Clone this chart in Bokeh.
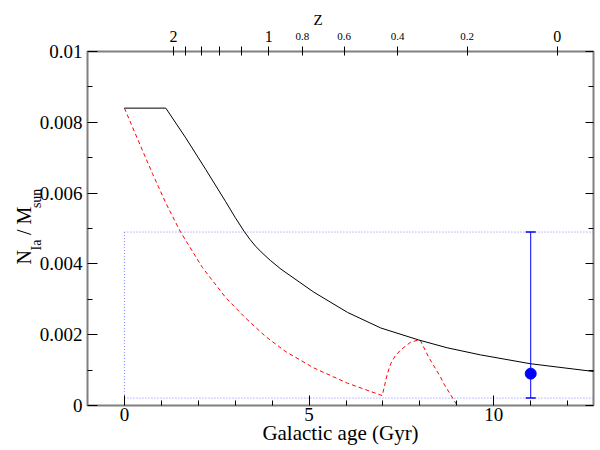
from bokeh.plotting import figure
from bokeh.models import FixedTicker, LinearAxis, Title, Range1d
from bokeh.embed import file_html
from bokeh.resources import INLINE

# ---------------- data ----------------
# upper (black, solid) curve: N_Ia / M_sun vs galactic age (Gyr)
black_age = [0.0, 1.12, 1.66, 2.20, 2.74, 3.00, 3.24, 3.40, 3.55, 3.70, 3.95, 4.24, 5.13,
             6.04, 6.94, 7.97, 8.74, 9.64, 10.99, 12.71]
black_n = [0.0084, 0.0084, 0.00756, 0.00667, 0.00576, 0.00531, 0.00492, 0.00469, 0.00450,
           0.00434, 0.00410, 0.00385, 0.00320, 0.00263, 0.00219, 0.00185, 0.00163,
           0.00143, 0.00118, 0.00096]

# lower (red, dashed) curve
red_age = [0.0, 0.40, 0.76, 1.12, 1.52, 2.11, 2.74, 3.28, 3.82, 4.37, 5.13, 6.04, 6.98,
           7.12, 7.21, 7.33, 7.48, 7.75, 8.00, 8.24, 8.56, 8.65, 9.01]
red_n = [0.0084, 0.00742, 0.00655, 0.00572, 0.00490, 0.00390, 0.00305, 0.00247, 0.00195,
         0.00152, 0.00106, 0.00063, 0.00028, 0.00090, 0.00118, 0.00140, 0.00157, 0.00179,
         0.00186, 0.00136, 0.00080, 0.00061, 0.0]

# observed value with error bar
obs_age = [11.0]
obs_n = [0.0009]
obs_low = [0.00021]
obs_high = [0.0049]
box_start = [0.0]

# axes
x_lim = [-1.0, 12.7]
y_lim = [0.0, 0.01]
x_major = [0, 5, 10]
x_major_labels = ["0", "5", "10"]
x_minor = [1, 2, 3, 4, 6, 7, 8, 9, 11, 12]
y_major = [0.0, 0.002, 0.004, 0.006, 0.008, 0.01]
y_major_labels = ["0", "0.002", "0.004", "0.006", "0.008", "0.01"]
y_minor = [0.001, 0.003, 0.005, 0.007, 0.009]

# redshift (top) axis: tick positions in galactic age
z_major_age = [1.33, 3.91, 4.82, 5.95, 7.40, 9.28, 11.72]
z_major_labels = ["2", "1", "0.8", "0.6", "0.4", "0.2", "0"]
z_big = [True, True, False, False, False, False, True]
z_minor_age = [1.66, 2.08, 2.57, 3.18]

x_title = "Galactic age (Gyr)"
z_title = "Z"

FONT = "Liberation Serif"
NB = "\u00a0"

p = figure(width=600, height=450, x_range=Range1d(*x_lim), y_range=Range1d(*y_lim),
           output_backend="svg", toolbar_location=None, title=None,
           min_border_left=87, min_border_right=7,
           min_border_top=51, min_border_bottom=45,
           background_fill_color="white", border_fill_color="white")
p.grid.visible = False
p.outline_line_color = "#808080"
p.outline_line_width = 2

# bottom axis
xa = p.xaxis[0]
xa.ticker = FixedTicker(ticks=x_major, minor_ticks=x_minor)
xa.major_label_overrides = dict(zip(x_major, x_major_labels))
xa.axis_line_color = None
xa.major_tick_in = 10
xa.major_tick_out = 0
xa.minor_tick_in = 5
xa.minor_tick_out = 0
xa.major_tick_line_color = "black"
xa.minor_tick_line_color = "black"
xa.major_label_text_font = FONT
xa.major_label_text_font_size = "19px"
xa.major_label_text_color = "black"
xa.major_label_standoff = 2
xa.axis_label = x_title
xa.axis_label_text_font = FONT
xa.axis_label_text_font_size = "21px"
xa.axis_label_text_font_style = "normal"
xa.axis_label_text_color = "black"
xa.axis_label_standoff = -3

# left axis
ya = p.yaxis[0]
ya.ticker = FixedTicker(ticks=y_major, minor_ticks=y_minor)
ya.major_label_overrides = dict(zip(y_major, y_major_labels))
ya.axis_line_color = None
ya.major_tick_in = 10
ya.major_tick_out = 0
ya.minor_tick_in = 5
ya.minor_tick_out = 0
ya.major_tick_line_color = "black"
ya.minor_tick_line_color = "black"
ya.major_label_text_font = FONT
ya.major_label_text_font_size = "19px"
ya.major_label_text_color = "black"
ya.major_label_standoff = 5

# right axis (ticks only)
ra = LinearAxis(ticker=FixedTicker(ticks=y_major, minor_ticks=y_minor),
                major_label_overrides={v: "" for v in y_major},
                axis_line_color=None, major_tick_in=8, major_tick_out=0,
                minor_tick_in=5, minor_tick_out=0, major_label_standoff=0,
                major_label_text_font_size="1px",
                major_tick_line_color="black", minor_tick_line_color="black")
p.add_layout(ra, "right")

# top axis A (closest to frame): ticks + small redshift labels
za = LinearAxis(ticker=FixedTicker(ticks=z_major_age, minor_ticks=z_minor_age),
                major_label_overrides={a: ("" if b else l) for a, l, b in zip(z_major_age, z_major_labels, z_big)},
                axis_line_color=None, major_tick_in=4, major_tick_out=5,
                minor_tick_in=4, minor_tick_out=5, major_label_standoff=7,
                major_label_text_font=FONT, major_label_text_font_size="11px",
                major_label_text_color="black",
                major_tick_line_color="black", minor_tick_line_color="black")
p.add_layout(za, "above")

# top axis B: large redshift labels + title "Z" (padded so it sits left of centre)
zb = LinearAxis(ticker=FixedTicker(ticks=z_major_age, minor_ticks=[]),
                major_label_overrides={a: (l if b else "") for a, l, b in zip(z_major_age, z_major_labels, z_big)},
                axis_line_color=None, major_tick_in=0, major_tick_out=0,
                minor_tick_in=0, minor_tick_out=0, major_label_standoff=-12,
                major_tick_line_color=None, minor_tick_line_color=None,
                major_label_text_font=FONT, major_label_text_font_size="16px",
                major_label_text_color="black",
                axis_label=z_title + NB * 12, axis_label_text_font=FONT,
                axis_label_text_font_size="15px", axis_label_text_font_style="normal",
                axis_label_text_color="black", axis_label_standoff=0)
p.add_layout(zb, "above")

# y-axis title: N_Ia / M_sun -> subscript row and main row
sub_t = Title(text="Ia" + NB * 9 + "sun", text_font=FONT, text_font_size="14px",
              text_font_style="normal", text_color="black",
              align="left", vertical_align="bottom", offset=155, standoff=-15)
main_t = Title(text="N" + NB * 3 + "/" + NB + "M", text_font=FONT, text_font_size="20px",
               text_font_style="normal", text_color="black",
               align="left", vertical_align="bottom", offset=141, standoff=0)
p.add_layout(sub_t, "left")
p.add_layout(main_t, "left")

# ---------------- glyphs ----------------
box_col = "#8080ff"
p.segment(x0=box_start + box_start + box_start,
          y0=obs_low + obs_high + obs_low,
          x1=box_start + [x_lim[1], x_lim[1]],
          y1=obs_high + obs_high + obs_low,
          line_color=box_col, line_width=1, line_dash="1 2")

p.line(red_age, red_n, line_color="red", line_width=1, line_dash="4 3")
p.line(black_age, black_n, line_color="black", line_width=1)

p.segment(x0=obs_age, y0=obs_low, x1=obs_age, y1=obs_high, line_color="blue", line_width=1)
p.scatter(obs_age + obs_age, obs_low + obs_high, marker="dash", size=10,
          line_color="blue", line_width=1.5)
p.scatter(obs_age, obs_n, marker="circle", size=11, fill_color="blue", line_color="blue")

open("out.html", "w").write(file_html(p, INLINE))
